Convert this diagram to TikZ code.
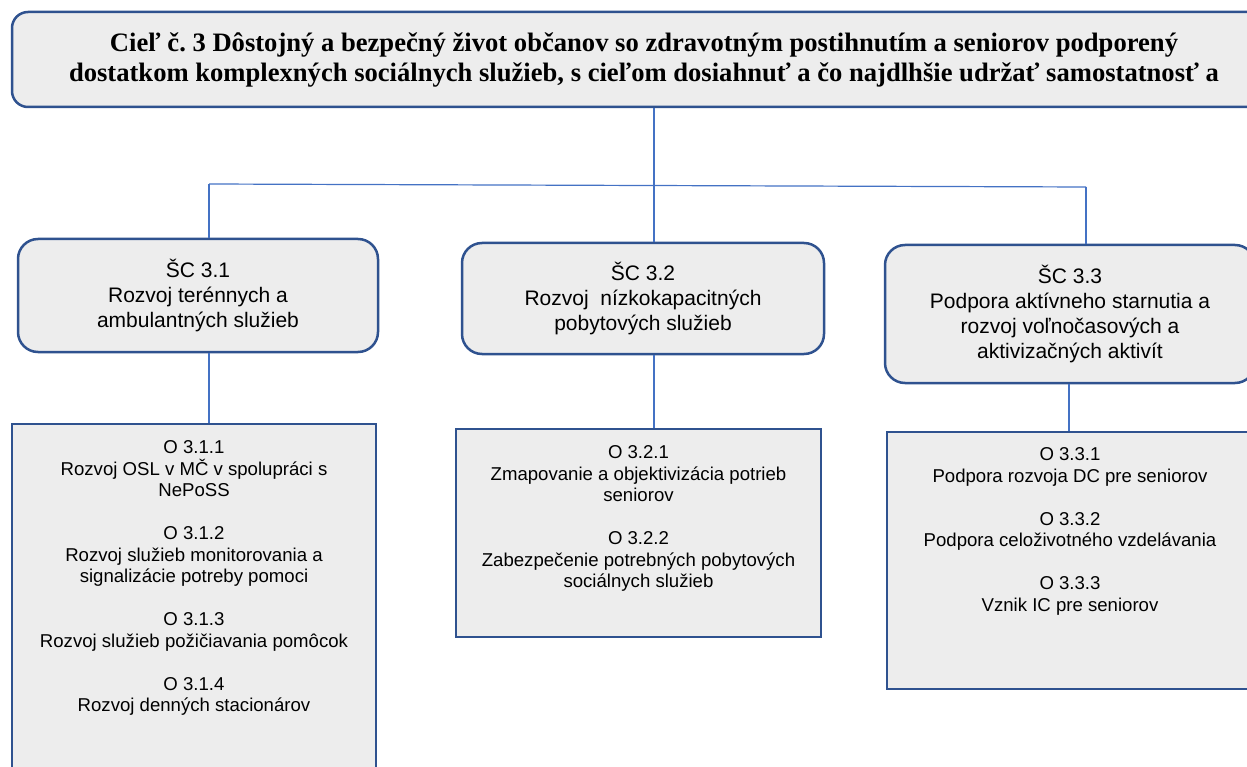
\documentclass[tikz,border=0pt]{standalone}
\usepackage{fontspec}
\setmainfont{Liberation Sans}
\newfontfamily\goalfont{Liberation Serif}
\definecolor{boxfill}{HTML}{EDEDED}
\definecolor{boxline}{HTML}{2F528F}
\definecolor{linkline}{HTML}{4472C4}
\frenchspacing
\begin{document}
\begin{tikzpicture}[x=1pt,y=-1pt]

    \tikzset{
      goal/.style={
        draw=boxline,
        fill=boxfill,
        line width=2.5pt,
        rounded corners=16pt,
        align=center,
        inner sep=0pt,
        font=\goalfont\bfseries\fontsize{26.6}{30}\selectfont,
      },
      target/.style={
        draw=boxline,
        fill=boxfill,
        line width=2.5pt,
        rounded corners=20pt,
        align=center,
        inner sep=0pt,
        font=\fontsize{21}{25}\selectfont,
      },
      measure/.style={
        draw=boxline,
        fill=boxfill,
        line width=2.5pt,
        inner sep=0pt,
      },
      mtext/.style={
        anchor=north,
        align=center,
        inner sep=0pt,
        font=\fontsize{18.6}{21.5}\selectfont,
      },
      link/.style={
        draw=linkline,
        line width=1.2pt,
      },
    }
    \useasboundingbox (0,0) rectangle (1247,767);
    \clip (0,0) rectangle (1247,767);
	\node[goal, minimum width=1264pt, minimum height=95pt] (goal) at (644,59.5) {Cieľ č. 3 Dôstojný a bezpečný život občanov so zdravotným postihnutím a seniorov podporený\\dostatkom komplexných sociálnych služieb, s cieľom dosiahnuť a čo najdlhšie udržať samostatnosť a};

	\node[target, minimum width=360pt, minimum height=113pt] (sc1) at (198,295.5) {ŠC 3.1\\Rozvoj terénnych a\\ambulantných služieb};
	\node[target, minimum width=362pt, minimum height=111pt] (sc2) at (643,298.5) {ŠC 3.2\\Rozvoj\ \ nízkokapacitných\\pobytových služieb};
	\node[target, minimum width=370pt, minimum height=138pt] (sc3) at (1070,314) {ŠC 3.3\\Podpora aktívneho starnutia a\\rozvoj voľnočasových a\\aktivizačných aktivít};

	\node[measure, minimum width=364pt, minimum height=376pt] (o1) at (194,612) {};
	\node[measure, minimum width=365pt, minimum height=208pt] (o2) at (638.5,533) {};
	\node[measure, minimum width=366pt, minimum height=257pt] (o3) at (1070,560.5) {};

	\node[mtext] (t1) at ([yshift=-18pt]o1.north) {O 3.1.1\\Rozvoj OSL v MČ v spolupráci s\\NePoSS\\[21.5pt]O 3.1.2\\Rozvoj služieb monitorovania a\\signalizácie potreby pomoci\\[21.5pt]O 3.1.3\\Rozvoj služieb požičiavania pomôcok\\[21.5pt]O 3.1.4\\Rozvoj denných stacionárov};
	\node[mtext] (t2) at ([yshift=-18pt]o2.north) {O 3.2.1\\Zmapovanie a objektivizácia potrieb\\seniorov\\[21.5pt]O 3.2.2\\Zabezpečenie potrebných pobytových\\sociálnych služieb};
	\node[mtext] (t3) at ([yshift=-17pt]o3.north) {O 3.3.1\\Podpora rozvoja DC pre seniorov\\[21.5pt]O 3.3.2\\Podpora celoživotného vzdelávania\\[21.5pt]O 3.3.3\\Vznik IC pre seniorov};

	\coordinate (hub) at (654,185);
	\coordinate (b1) at (209,184);
	\coordinate (b3) at (1086,187);
	\draw[link] (goal.south -| hub) -- (hub |- sc2.north);
	\draw[link] (b1) -- (b3);
	\draw[link] (b1) -- (b1 |- sc1.north);
	\draw[link] (b3) -- (b3 |- sc3.north);
	\draw[link] (b1 |- sc1.south) -- (b1 |- o1.north);
	\draw[link] (hub |- sc2.south) -- (hub |- o2.north);
	\draw[link] (sc3.south -| 1069,0) -- (o3.north -| 1069,0);

\end{tikzpicture}
\end{document}
